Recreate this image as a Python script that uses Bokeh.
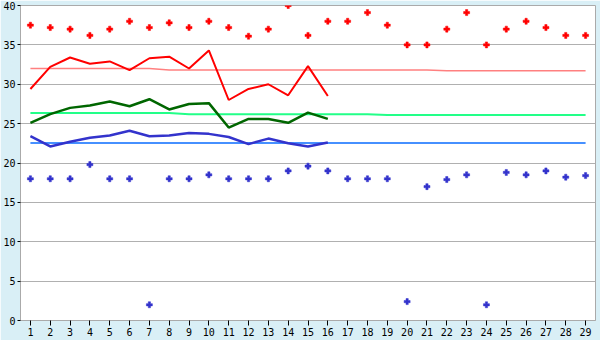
from bokeh.plotting import figure
from bokeh.models import FixedTicker
from bokeh.embed import file_html
from bokeh.resources import INLINE

days = list(range(1, 30))
obs_days = list(range(1, 17))

tmax = [29.4, 32.2, 33.4, 32.6, 32.9, 31.8, 33.3, 33.5, 32.0, 34.3, 28.0, 29.4, 30.0, 28.6, 32.3, 28.5]
tmean = [25.1, 26.2, 27.0, 27.3, 27.8, 27.2, 28.1, 26.8, 27.5, 27.6, 24.5, 25.6, 25.6, 25.1, 26.4, 25.6]
tmin = [23.4, 22.1, 22.7, 23.2, 23.5, 24.1, 23.4, 23.5, 23.8, 23.7, 23.3, 22.4, 23.1, 22.5, 22.1, 22.6]

normal_max = [32.0] * 7 + [31.8] * 14 + [31.7] * 8
normal_mean = [26.35] * 8 + [26.2] * 10 + [26.1] * 11
normal_min = [22.55] * 29

record_max = [37.5, 37.2, 37.0, 36.2, 37.0, 38.0, 37.2, 37.8, 37.2, 38.0, 37.2, 36.1, 37.0, 40.0, 36.2,
              38.0, 38.0, 39.1, 37.5, 35.0, 35.0, 37.0, 39.1, 35.0, 37.0, 38.0, 37.2, 36.2, 36.2]
record_min = [18.0, 18.0, 18.0, 19.8, 18.0, 18.0, 2.0, 18.0, 18.0, 18.5, 18.0, 18.0, 18.0, 19.0, 19.6,
              19.0, 18.0, 18.0, 18.0, 2.4, 17.0, 17.9, 18.5, 2.0, 18.8, 18.5, 19.0, 18.2, 18.4]

y_ticks = [0, 5, 10, 15, 20, 25, 30, 35, 40]

p = figure(width=600, height=340, x_range=(0.5, 29.5), y_range=(0, 40),
           output_backend="svg", toolbar_location=None,
           min_border_left=20, min_border_right=5, min_border_top=5, min_border_bottom=20)
p.background_fill_color = "white"
p.border_fill_color = "#d9eff6"
p.outline_line_color = "#aaaaaa"
p.outline_line_width = 1

p.xgrid.visible = False
p.ygrid.grid_line_color = "#b0b0b0"
p.ygrid.grid_line_width = 1

for ax in (p.xaxis[0], p.yaxis[0]):
    ax.axis_line_color = "#aaaaaa"
    ax.major_tick_line_color = "black"
    ax.minor_tick_line_color = None
    ax.major_label_text_font = "DejaVu Sans Mono"
    ax.major_label_text_font_size = "10px"
    ax.major_label_text_color = "black"
    ax.major_tick_in = 0

p.xaxis.ticker = FixedTicker(ticks=days)
p.xaxis.major_tick_out = 5
p.xaxis.major_label_standoff = 2
p.yaxis.ticker = FixedTicker(ticks=y_ticks)
p.yaxis.major_tick_out = 3
p.yaxis.major_label_standoff = 2

p.line(days, normal_max, line_color="#ff8080", line_width=1.5)
p.line(days, normal_mean, line_color="#22ff88", line_width=2)
p.line(days, normal_min, line_color="#0a6cff", line_width=1.5)

p.line(obs_days, tmax, line_color="#ff0000", line_width=2)
p.line(obs_days, tmean, line_color="#006600", line_width=2.5)
p.line(obs_days, tmin, line_color="#3333cc", line_width=2.5)

p.scatter(days, record_max, marker="plus", size=6, fill_color="#ff0000", line_color="#ff0000", line_width=0.5)
p.scatter(days, record_min, marker="plus", size=6, fill_color="#3333cc", line_color="#3333cc", line_width=0.5)

open("out.html", "w").write(file_html(p, INLINE))
